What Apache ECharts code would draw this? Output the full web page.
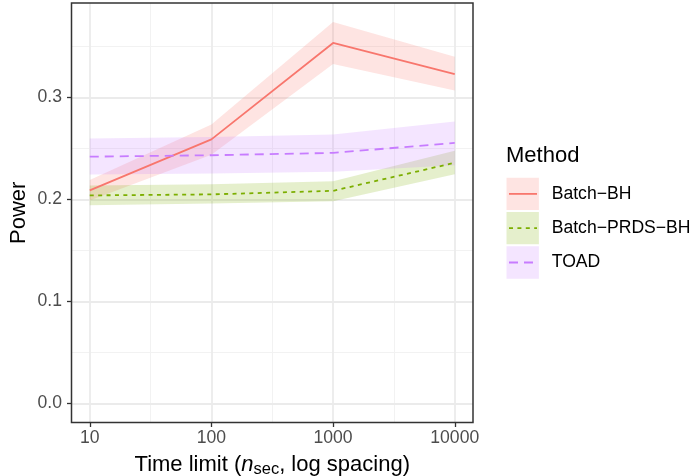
<!DOCTYPE html>
<html><head><meta charset="utf-8">
<script src="https://cdn.jsdelivr.net/npm/echarts@6/dist/echarts.min.js"></script>
<style>html,body{margin:0;padding:0;background:#fff}#c{width:693px;height:476px}</style>
</head><body><div id="c"></div>
<script>
// ---- data ----
const timeLimits = [10, 100, 1000, 10000];
const yTicks = [0, 0.1, 0.2, 0.3];
const yMinor = [0.05, 0.15, 0.25, 0.35];
const methods = ['Batch\u2212BH', 'Batch\u2212PRDS\u2212BH', 'TOAD'];
const batchBH = [0.209, 0.259, 0.3535, 0.323];
const batchBHLow = [0.199, 0.244, 0.333, 0.307];
const batchBHHigh = [0.219, 0.2735, 0.374, 0.340];
const prdsBH = [0.204, 0.205, 0.2085, 0.236];
const prdsBHLow = [0.1944, 0.196, 0.1983, 0.2248];
const prdsBHHigh = [0.2137, 0.215, 0.218, 0.2477];
const toad = [0.242, 0.2434, 0.2457, 0.2555];
const toadLow = [0.2245, 0.2255, 0.2271, 0.2336];
const toadHigh = [0.2598, 0.2614, 0.2637, 0.2765];

// ---- styles ----
const FONT = '"Liberation Sans", Arial, Helvetica, sans-serif';
const colors = ['#F8766D', '#7CAE00', '#C77CFF'];
const ribbonColors = ['rgba(248,118,109,0.2)', 'rgba(124,174,0,0.2)', 'rgba(199,124,255,0.2)'];
const dashes = ['solid', [4, 4.4], [9, 6]];
const means = [batchBH, prdsBH, toad];
const lows = [batchBHLow, prdsBHLow, toadLow];
const highs = [batchBHHigh, prdsBHHigh, toadHigh];

const lx = timeLimits.map(v => Math.log10(v));
const xMajor = [1, 2, 3, 4];
const xMinor = [1.5, 2.5, 3.5];
const X_MIN = 0.85, X_MAX = 4.15;
const Y_MIN = -0.0187, Y_MAX = 0.3927;

const series = [];
methods.forEach((m, i) => {
  series.push({
    type: 'custom', silent: true, z: 2,
    data: lx.map((x, k) => [x, lows[i][k], highs[i][k]]),
    encode: { x: 0, y: [1, 2] },
    renderItem: (params, api) => {
      if (params.dataIndex !== 0) return null;
      const pts = [];
      for (let k = 0; k < lx.length; k++) pts.push(api.coord([lx[k], highs[i][k]]));
      for (let k = lx.length - 1; k >= 0; k--) pts.push(api.coord([lx[k], lows[i][k]]));
      return { type: 'polygon', shape: { points: pts }, style: { fill: ribbonColors[i] } };
    }
  });
});
methods.forEach((m, i) => {
  series.push({
    name: m, type: 'line', symbol: 'none', silent: true, z: 5,
    lineStyle: { color: colors[i], width: 1.8, type: dashes[i], cap: 'butt' },
    data: lx.map((x, k) => [x, means[i][k]])
  });
});

// legend drawn as graphic
const graphic = [{
  type: 'text', left: 506, top: 145,
  style: { text: 'Method', fontSize: 22, fontFamily: FONT, fill: '#000' }
}];
const keyTops = [177.7, 211.9, 246.3];
methods.forEach((m, i) => {
  const t = keyTops[i], h = 32.4, cy = t + h / 2;
  graphic.push({ type: 'rect', shape: { x: 506.5, y: t, width: 32.4, height: h }, style: { fill: ribbonColors[i] } });
  graphic.push({ type: 'line', shape: { x1: 509, y1: cy, x2: 537, y2: cy },
    style: { stroke: colors[i], lineWidth: 1.8, lineDash: dashes[i] === 'solid' ? null : dashes[i] } });
  graphic.push({ type: 'text', x: 551.7, y: cy,
    style: { text: m, fontSize: 17.6, fontFamily: FONT, fill: '#000', verticalAlign: 'middle', align: 'left' } });
});

const hiddenAxis = (min, max, custom) => ({
  type: 'value', min, max, show: true,
  axisLine: { show: false, onZero: false }, axisLabel: { show: false },
  axisTick: { show: false, customValues: custom },
  splitLine: { show: true, lineStyle: { color: '#F2F2F2', width: 1 } }
});

const option = {
  animation: false,
  backgroundColor: '#fff',
  grid: { left: 71.5, right: 220, top: 3, bottom: 53.5, show: true, containLabel: false, outerBoundsMode: 'none',
    borderColor: '#333333', borderWidth: 1.5, backgroundColor: 'transparent', z: 10 },
  graphic,
  xAxis: [
    {
      type: 'value', min: X_MIN, max: X_MAX, position: 'bottom',
      axisLine: { show: false, onZero: false },
      axisTick: { show: true, length: 4.5, customValues: xMajor, lineStyle: { color: '#333333', width: 1.3 } },
      axisLabel: { customValues: xMajor, formatter: v => String(Math.round(Math.pow(10, v))),
        color: '#4D4D4D', fontSize: 17.6, fontFamily: FONT, margin: 7 },
      splitLine: { show: true, lineStyle: { color: '#EBEBEB', width: 1.8 } },
      name: '{a|Time limit (}{i|n}{s|sec}{a|, log spacing)}',
      nameLocation: 'middle', nameGap: 29,
      nameTextStyle: {
        rich: {
          a: { fontSize: 22, fontFamily: FONT, color: '#000', lineHeight: 26 },
          i: { fontSize: 22, fontFamily: FONT, color: '#000', lineHeight: 26, fontStyle: 'italic' },
          s: { fontSize: 16.5, fontFamily: FONT, color: '#000', lineHeight: 14, verticalAlign: 'bottom' }
        }
      },
      z: 1
    },
    hiddenAxis(X_MIN, X_MAX, xMinor)
  ],
  yAxis: [
    {
      type: 'value', min: Y_MIN, max: Y_MAX, position: 'left',
      axisLine: { show: false, onZero: false },
      axisTick: { show: true, length: 4.5, customValues: yTicks, lineStyle: { color: '#333333', width: 1.3 } },
      axisLabel: { customValues: yTicks, formatter: v => v.toFixed(1),
        color: '#4D4D4D', fontSize: 17.6, fontFamily: FONT, margin: 9.5 },
      splitLine: { show: true, lineStyle: { color: '#EBEBEB', width: 1.8 } },
      name: 'Power', nameLocation: 'middle', nameGap: 42, nameMoveOverlap: false,
      nameTextStyle: { fontSize: 22, fontFamily: FONT, color: '#000' },
      z: 1
    },
    hiddenAxis(Y_MIN, Y_MAX, yMinor)
  ],
  series
};
const chart = echarts.init(document.getElementById('c'), null, { renderer: 'canvas' });
chart.setOption(option);
</script>
</body></html>
